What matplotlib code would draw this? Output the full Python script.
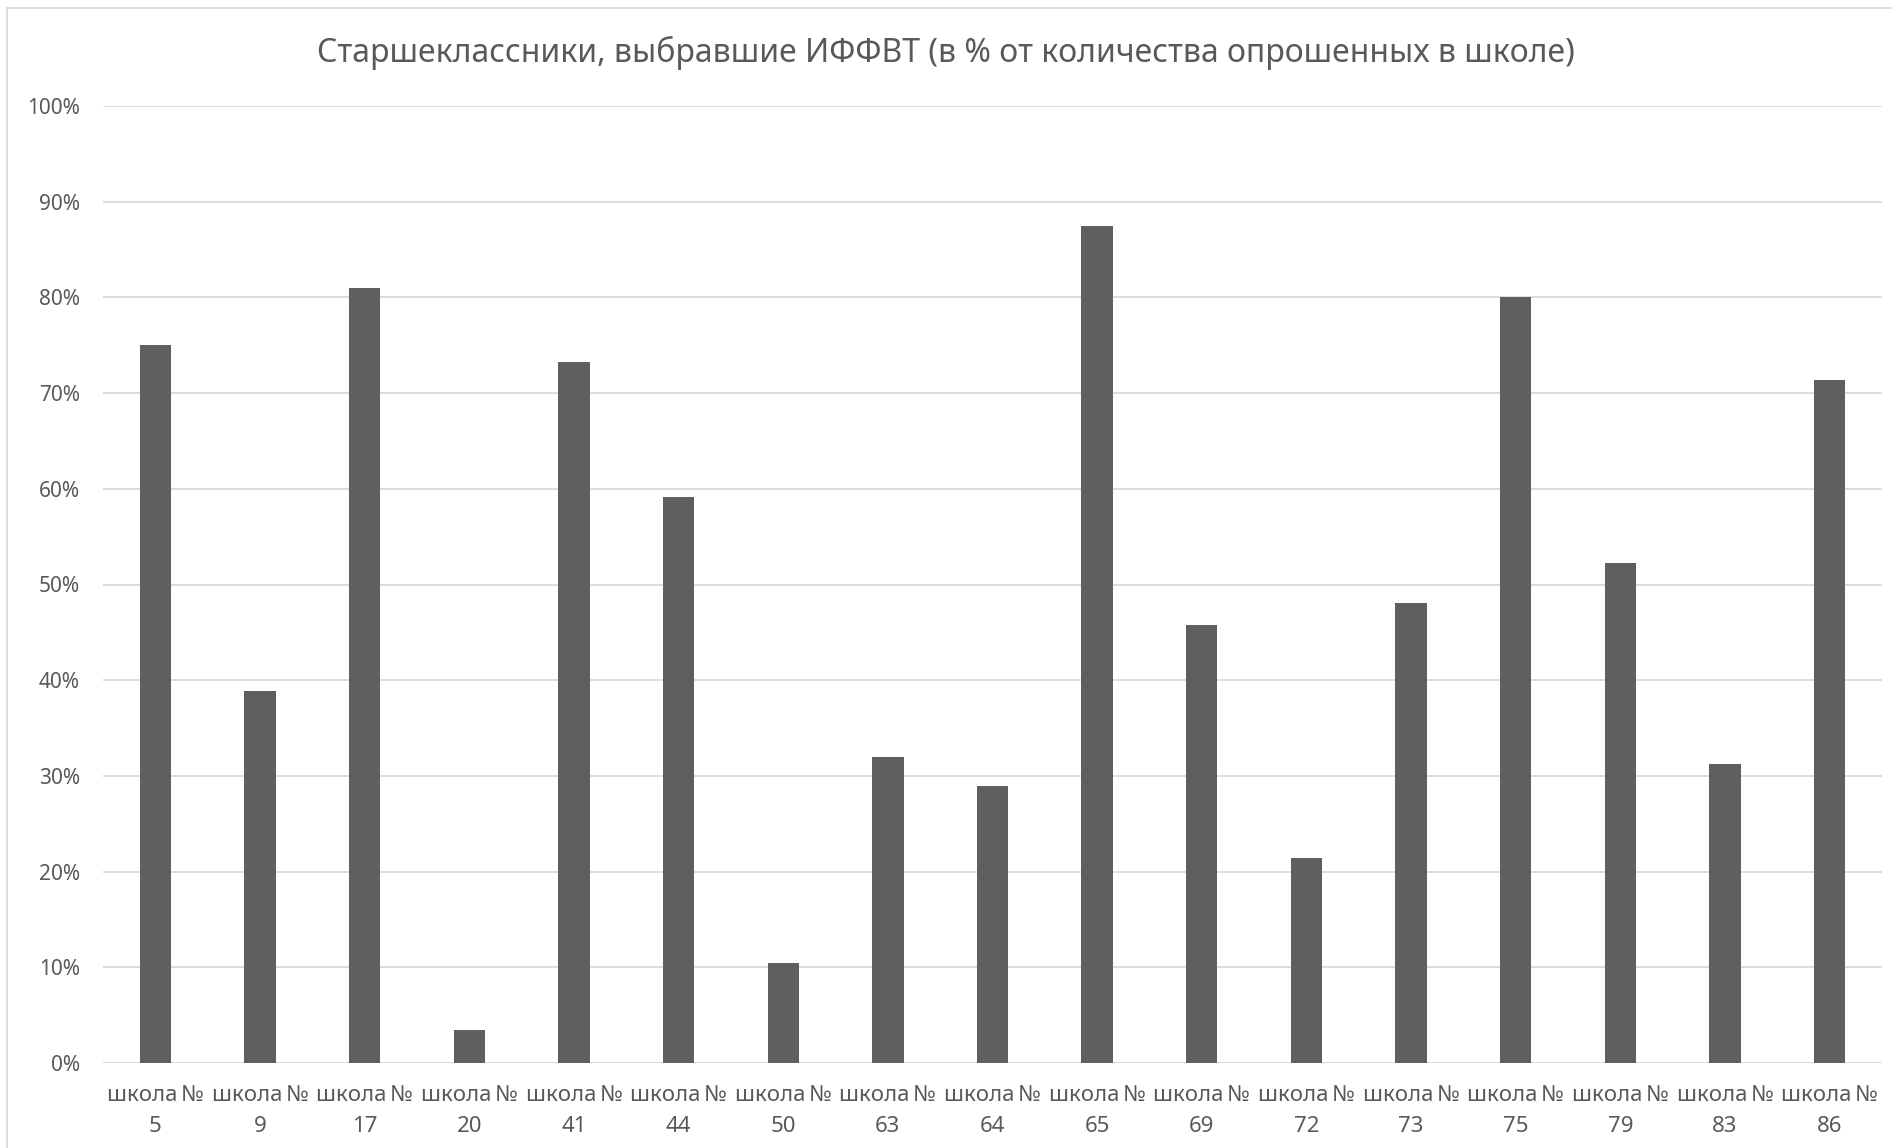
import matplotlib
matplotlib.use("Agg")
import matplotlib.pyplot as plt
from matplotlib.ticker import PercentFormatter, MultipleLocator
from matplotlib.patches import Rectangle

schools = ["5", "9", "17", "20", "41", "44", "50", "63", "64", "65", "69", "72", "73", "75", "79", "83", "86"]
values = [75.0, 38.9, 81.0, 3.5, 73.3, 59.1, 10.5, 32.0, 28.9, 87.5, 45.8, 21.4, 48.1, 80.0, 52.2, 31.25, 71.4]
labels = ["школа\u2009№\n" + s for s in schools]
title = "Старшеклассники, выбравшие ИФФВТ (в % от количества опрошенных в школе)"

plt.rcParams['font.family'] = ['Noto Sans', 'DejaVu Sans']
text_color = "#595959"

fig = plt.figure(figsize=(18.92, 11.48), dpi=100)
ax = fig.add_axes([103/1892, 1 - 1063/1148, (1882-103)/1892, (1063-106)/1148])

x = range(len(values))
ax.bar(x, values, width=0.3, color="#5f5f5f", zorder=3)
ax.set_xlim(-0.5, len(values) - 0.5)
ax.set_ylim(0, 100)
ax.yaxis.set_major_locator(MultipleLocator(10))
ax.yaxis.set_major_formatter(PercentFormatter(decimals=0))
ax.set_xticks(list(x))
ax.set_xticklabels(labels, fontsize=16, color=text_color, linespacing=1.62)
ax.tick_params(axis='y', labelsize=15, labelcolor=text_color, length=0, pad=16.5)
ax.tick_params(axis='x', length=0, pad=16)
ax.grid(axis='y', color="#d9d9d9", linewidth=1.3, zorder=0)
for s in ax.spines.values():
    s.set_visible(False)
ax.axhline(0, color="#d9d9d9", linewidth=1.3, zorder=2)

fig.text(0.5, 1 - 53/1148, title, ha='center', va='center', fontsize=23, color=text_color)

fig.patches.append(Rectangle((7/1892, -0.01), 1.0, 1 - 8/1148 + 0.01, transform=fig.transFigure,
                             fill=False, edgecolor="#d9d9d9", linewidth=1.3))

fig.savefig("out.png", dpi=100, facecolor="white")
